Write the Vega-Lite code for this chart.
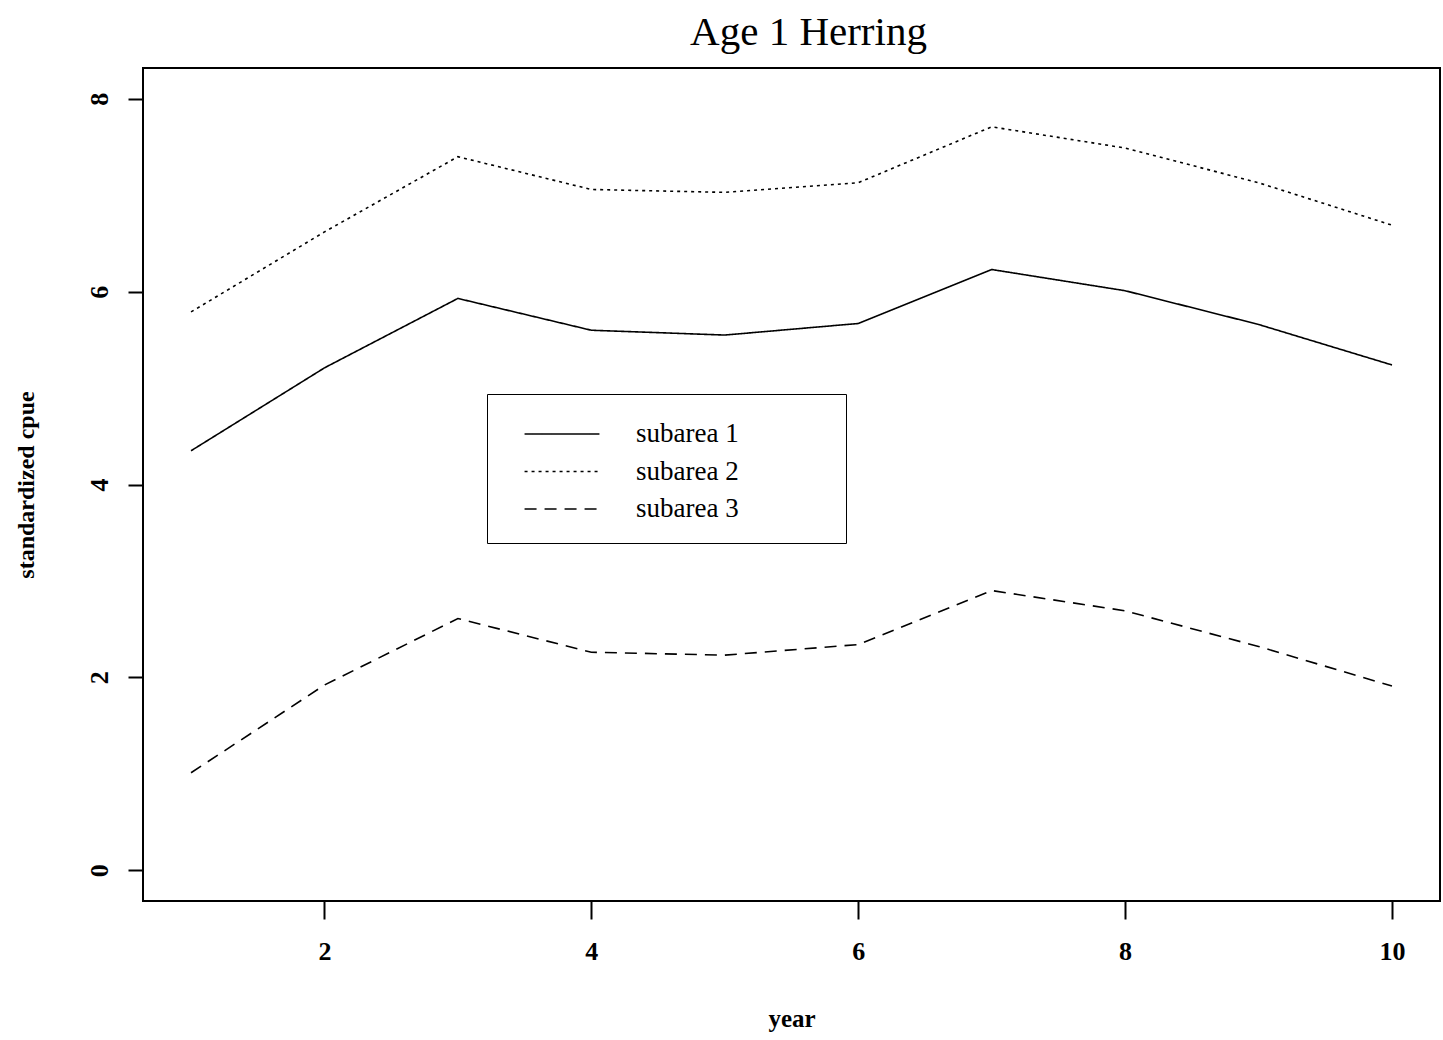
{
  "$schema": "https://vega.github.io/schema/vega-lite/v6.json",
  "width": 1297,
  "height": 833,
  "autosize": {"type": "none"},
  "padding": {"left": 143, "top": 68, "right": 3, "bottom": 139},
  "background": "white",
  "title": {
    "text": "Age 1 Herring",
    "font": "Liberation Serif",
    "fontSize": 41,
    "fontWeight": "normal",
    "color": "black",
    "anchor": "middle",
    "dx": 17,
    "baseline": "alphabetic",
    "offset": -18
  },
  "config": {
    "view": {"stroke": "black", "strokeWidth": 2},
    "axis": {
      "grid": false,
      "domain": false,
      "tickColor": "black",
      "tickWidth": 2,
      "labelFont": "Liberation Serif",
      "labelFontWeight": "bold",
      "labelFontSize": 26,
      "labelColor": "black",
      "titleFont": "Liberation Serif",
      "titleFontWeight": "bold",
      "titleFontSize": 25,
      "titleColor": "black"
    }
  },
  "data": {
    "values": [
      {"year": 1, "area": "subarea 1", "cpue": 4.35},
      {"year": 2, "area": "subarea 1", "cpue": 5.21},
      {"year": 3, "area": "subarea 1", "cpue": 5.93},
      {"year": 4, "area": "subarea 1", "cpue": 5.6},
      {"year": 5, "area": "subarea 1", "cpue": 5.55},
      {"year": 6, "area": "subarea 1", "cpue": 5.67},
      {"year": 7, "area": "subarea 1", "cpue": 6.23},
      {"year": 8, "area": "subarea 1", "cpue": 6.01},
      {"year": 9, "area": "subarea 1", "cpue": 5.66},
      {"year": 10, "area": "subarea 1", "cpue": 5.24},
      {"year": 1, "area": "subarea 2", "cpue": 5.79},
      {"year": 2, "area": "subarea 2", "cpue": 6.62},
      {"year": 3, "area": "subarea 2", "cpue": 7.4},
      {"year": 4, "area": "subarea 2", "cpue": 7.06},
      {"year": 5, "area": "subarea 2", "cpue": 7.03},
      {"year": 6, "area": "subarea 2", "cpue": 7.13},
      {"year": 7, "area": "subarea 2", "cpue": 7.71},
      {"year": 8, "area": "subarea 2", "cpue": 7.49},
      {"year": 9, "area": "subarea 2", "cpue": 7.13},
      {"year": 10, "area": "subarea 2", "cpue": 6.69},
      {"year": 1, "area": "subarea 3", "cpue": 1.01},
      {"year": 2, "area": "subarea 3", "cpue": 1.92},
      {"year": 3, "area": "subarea 3", "cpue": 2.61},
      {"year": 4, "area": "subarea 3", "cpue": 2.26},
      {"year": 5, "area": "subarea 3", "cpue": 2.23},
      {"year": 6, "area": "subarea 3", "cpue": 2.34},
      {"year": 7, "area": "subarea 3", "cpue": 2.9},
      {"year": 8, "area": "subarea 3", "cpue": 2.69},
      {"year": 9, "area": "subarea 3", "cpue": 2.32},
      {"year": 10, "area": "subarea 3", "cpue": 1.91}
    ]
  },
  "mark": {"type": "line", "color": "black", "strokeWidth": 1.6},
  "encoding": {
    "x": {
      "field": "year",
      "type": "quantitative",
      "scale": {"domain": [0.64, 10.36], "nice": false, "zero": false},
      "axis": {
        "values": [2, 4, 6, 8, 10],
        "title": "year",
        "tickSize": 18,
        "labelPadding": 19,
        "titlePadding": 42
      }
    },
    "y": {
      "field": "cpue",
      "type": "quantitative",
      "scale": {"domain": [-0.32, 8.32], "nice": false, "zero": false},
      "axis": {
        "values": [0, 2, 4, 6, 8],
        "title": "standardized cpue",
        "tickSize": 15,
        "labelAngle": 270,
        "labelAlign": "center",
        "labelBaseline": "bottom",
        "labelPadding": 16,
        "titleFontSize": 24,
        "titlePadding": 48
      }
    },
    "strokeDash": {
      "field": "area",
      "type": "nominal",
      "scale": {
        "domain": ["subarea 1", "subarea 2", "subarea 3"],
        "range": [[1, 0], [3, 4], [12, 8]]
      },
      "legend": {
        "orient": "none",
        "legendX": 344,
        "legendY": 326,
        "title": " ",
        "titleOrient": "right",
        "titlePadding": 86,
        "padding": 21,
        "rowPadding": 5.5,
        "strokeColor": "black",
        "fillColor": "white",
        "symbolType": "M-2.08,0H2.08",
        "symbolSize": 1296,
        "symbolStrokeWidth": 1.5,
        "symbolStrokeColor": "black",
        "symbolOffset": 35,
        "labelOffset": 55,
        "labelFont": "Liberation Serif",
        "labelFontSize": 27,
        "labelColor": "black",
        "labelLimit": 400
      }
    }
  }
}
